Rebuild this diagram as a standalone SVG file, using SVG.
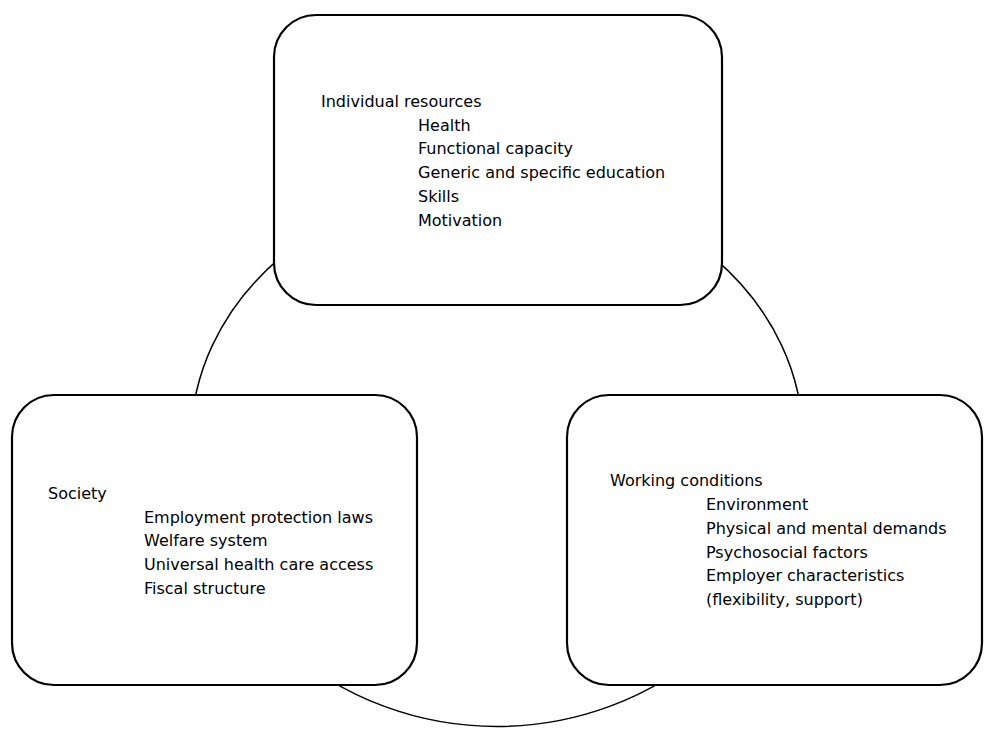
<svg xmlns="http://www.w3.org/2000/svg" width="984" height="729" viewBox="0 0 984 729">
<style>
.box{fill:#fff;stroke:#000;stroke-width:2.2}
.ring{fill:none;stroke:#000;stroke-width:1.5}
text{font-family:"DejaVu Sans","Verdana",sans-serif;font-size:16px;fill:#000}
</style>
<rect width="984" height="729" fill="#fff"/>
<g id="connectors">
<path class="ring" d="M 191 440.5 A 306 259 0 0 1 803 440.5 A 306 286 0 0 1 191 440.5 Z"/>
</g>
<g id="individual">
<rect class="box" x="274" y="15" width="448" height="290" rx="42" ry="42"/>
<text x="321" y="106.7">Individual resources</text>
<text x="418" y="130.5">Health</text>
<text x="418" y="154.4">Functional capacity</text>
<text x="418" y="178.3">Generic and specific education</text>
<text x="418" y="202.1">Skills</text>
<text x="418" y="226">Motivation</text>
</g>
<g id="society">
<rect class="box" x="12" y="395" width="405" height="290" rx="42" ry="42"/>
<text x="48" y="498.5">Society</text>
<text x="144" y="522.5">Employment protection laws</text>
<text x="144" y="546.3">Welfare system</text>
<text x="144" y="570.2">Universal health care access</text>
<text x="144" y="594">Fiscal structure</text>
</g>
<g id="working">
<rect class="box" x="567" y="395" width="415" height="290" rx="42" ry="42"/>
<text x="610" y="486">Working conditions</text>
<text x="706" y="509.8">Environment</text>
<text x="706" y="533.6">Physical and mental demands</text>
<text x="706" y="557.5">Psychosocial factors</text>
<text x="706" y="581.4">Employer characteristics</text>
<text x="706" y="605.2">(flexibility, support)</text>
</g>
</svg>
